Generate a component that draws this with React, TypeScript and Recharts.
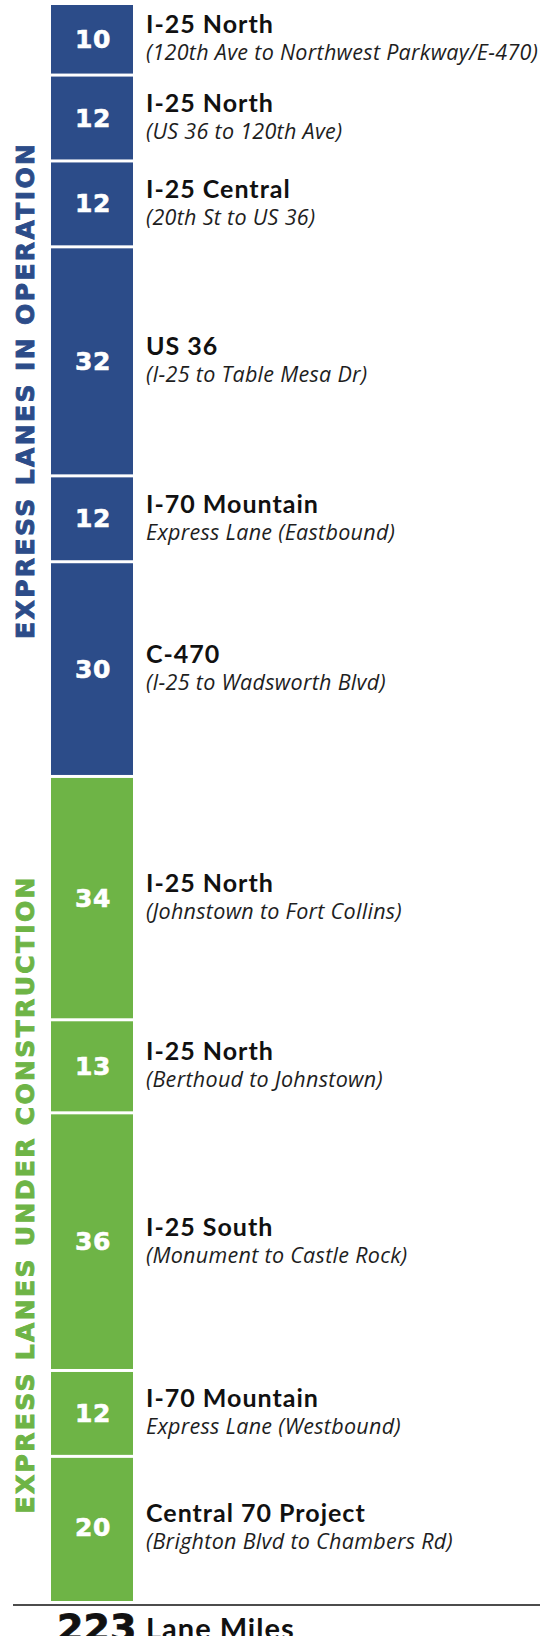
import { BarChart, Bar, XAxis, YAxis, LabelList } from 'recharts';

const routes = [
  'I-25 North', 'I-25 North', 'I-25 Central', 'US 36', 'I-70 Mountain', 'C-470',
  'I-25 North', 'I-25 North', 'I-25 South', 'I-70 Mountain', 'Central 70 Project',
];
const segments = [
  '(120th Ave to Northwest Parkway/E-470)', '(US 36 to 120th Ave)', '(20th St to US 36)',
  '(I-25 to Table Mesa Dr)', 'Express Lane (Eastbound)', '(I-25 to Wadsworth Blvd)',
  '(Johnstown to Fort Collins)', '(Berthoud to Johnstown)', '(Monument to Castle Rock)',
  'Express Lane (Westbound)', '(Brighton Blvd to Chambers Rd)',
];
const miles = [10, 12, 12, 32, 12, 30, 34, 13, 36, 12, 20];
const groupOf = [0, 0, 0, 0, 0, 0, 1, 1, 1, 1, 1];
const groupNames = ['EXPRESS LANES IN OPERATION', 'EXPRESS LANES UNDER CONSTRUCTION'];
const groupColors = ['#2c4c89', '#6eb446'];

const total = miles.reduce((a, b) => a + b, 0);
const groupTotals = groupNames.map((_, g) => miles.filter((_, i) => groupOf[i] === g).reduce((a, b) => a + b, 0));
const row: Record<string, number | string> = { name: 'lanes' };
miles.forEach((m, i) => { row['s' + i] = m; });
const data = [row];

const GAP = 3;

const norm = (p: any) => {
  let { x, y, width, height } = p;
  if (height < 0) { y = y + height; height = -height; }
  return { x, y, width, height };
};

function Segment(props: any) {
  const { x, y, width, height } = norm(props);
  const last = props.seg === miles.length - 1;
  return <rect x={x} y={y} width={width} height={Math.max(0, height - (last ? 0 : GAP))} fill={props.fill} />;
}

function SegmentLabel(props: any) {
  const i: number = props.seg;
  const { x, y, width, height } = norm(props.viewBox ?? props);
  const cy = y + (height - GAP) / 2;
  const right = x + width + 13;
  const g = groupOf[i];
  const firstOfGroup = i === 0 || groupOf[i - 1] !== g;
  const perMile = height / miles[i];
  const groupLen = [495, 636][g];
  const groupShift = [0, 6][g];
  return (
    <g>
      <text x={x + width / 2 + 1} y={cy} textAnchor="middle" dominantBaseline="central" fill="#fff"
        stroke="#fff" strokeWidth={0.6} fontFamily="DejaVu Sans" fontWeight={700} fontSize={25} letterSpacing={0.5}>{miles[i]}</text>
      <text x={right} y={cy - 6} fill="#111" fontFamily="Lato" fontWeight={700} fontSize={25} letterSpacing={1}>{routes[i]}</text>
      <text x={right} y={cy + 21} fill="#1e1e1e" fontFamily="Open Sans" fontStyle="italic" fontWeight={400}
        fontSize={21.5} letterSpacing={0.3}>{segments[i]}</text>
      {firstOfGroup && (() => {
        const gy = y + (groupTotals[g] * perMile) / 2 + groupShift;
        return (
          <text x={26} y={gy} transform={`rotate(-90 26 ${gy})`} textAnchor="middle" dominantBaseline="central"
            fill={groupColors[g]} stroke={groupColors[g]} strokeWidth={0.9} fontFamily="DejaVu Sans" fontWeight={700}
            fontSize={25} textLength={groupLen} lengthAdjust="spacing">{groupNames[g]}</text>
        );
      })()}
      {i === miles.length - 1 && (
        <g>
          <line x1={13} x2={540} y1={y + height + 4} y2={y + height + 4} stroke="#111" strokeWidth={1.5} />
          <text x={57} y={y + height + 40} fill="#111" stroke="#111" strokeWidth={0.8} fontFamily="DejaVu Sans"
            fontWeight={700} fontSize={38}>{total}</text>
          <text x={right} y={y + height + 38} fill="#111" fontFamily="Lato" fontWeight={700} fontSize={29}
            letterSpacing={1}>Lane Miles</text>
        </g>
      )}
    </g>
  );
}

export default function App() {
  return (
    <div style={{ position: 'absolute', left: 0, top: 0, background: '#fff' }}>
      <BarChart width={554} height={1636} data={data} barCategoryGap={0}
        margin={{ top: 5, right: 421, bottom: 35, left: 51 }}>
        <XAxis dataKey="name" hide />
        <YAxis type="number" hide reversed domain={[0, total]} />
        {miles.map((_, i) => (
          <Bar key={i} dataKey={'s' + i} stackId="lanes" fill={groupColors[groupOf[i]]}
            isAnimationActive={false} shape={(p: any) => <Segment {...p} seg={i} />}>
            <LabelList dataKey={'s' + i} content={(p: any) => <SegmentLabel {...p} seg={i} />} />
          </Bar>
        ))}
      </BarChart>
    </div>
  );
}
